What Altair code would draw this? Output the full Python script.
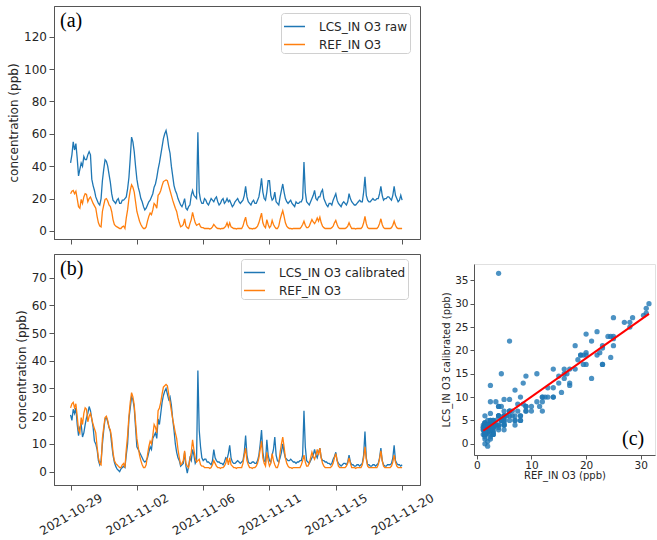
import altair as alt
import pandas as pd

# x axis is a sample index 0..500; stored samples every IDX_STEP index units
IDX_STEP = 2

ref_o3 = [23, 24.5, 25, 23, 24.5, 20, 15, 14, 19.5, 17,
          21, 23, 22.5, 18, 20, 21, 19, 17, 15.5, 14,
          9, 5, 3, 2.5, 12, 16, 19.5, 20, 18.5, 16,
          15, 12, 7, 4, 3, 2.5, 2, 1.5, 1.5, 2.5,
          3, 1.5, 8, 13, 20, 25, 28.5, 27, 24, 18,
          12, 9, 6, 4, 2.5, 1.5, 1.5, 2.5, 6, 9,
          11, 10, 13, 17, 16, 14, 22, 23, 25, 28,
          30.5, 31, 31.5, 31, 28, 25, 22, 19, 16.5, 14,
          12, 8, 5, 2.5, 3, 4, 7.5, 3, 2, 1.5,
          4.5, 7, 11.5, 8, 5, 3.5, 4, 4.5, 2.5, 2,
          2, 1.5, 1.5, 1.5, 1.5, 1.2, 1.5, 2.5, 4, 3,
          2, 1.5, 1.5, 1.2, 1.5, 1.5, 2, 3, 5, 2.5,
          5, 2.5, 2, 1.5, 1.5, 1.2, 1.5, 1.5, 1.5, 1.5,
          3, 6, 8.5, 4, 2.5, 1.5, 1.5, 1.2, 1.5, 1.5,
          2, 3, 5, 8, 11, 5, 3, 2, 7, 4,
          2, 3, 6.5, 4, 2.5, 1.5, 1.5, 3, 7, 10,
          12.5, 9, 5, 3, 2, 1.5, 1.5, 1.2, 1.5, 1.5,
          1.5, 1.5, 1.5, 1.5, 2.5, 4, 6, 3.5, 2, 2,
          3, 5, 7, 5.5, 4.5, 6, 8, 6, 8.5, 5,
          3, 2, 1.5, 1.5, 1.5, 1.5, 1.5, 2, 3, 5,
          6.5, 4, 2, 1.5, 1.5, 1.5, 1.5, 1.5, 2, 3,
          5, 3, 1.5, 1.5, 1.5, 1.2, 1.5, 1.5, 1.5, 1.5,
          2.5, 5, 9, 4.5, 2, 1.5, 1.5, 1.5, 1.5, 1.5,
          1.5, 1.5, 2.5, 4.5, 7.5, 4, 2, 1.5, 1.5, 1.5,
          1.5, 1.5, 2, 3.5, 6, 3.5, 2, 1.5, 1.5, 1.5, 1.5]

lcs_cal = [20.5, 18.5, 22.5, 21, 23, 17, 13, 16, 17, 12.5,
           14, 17, 19.5, 21, 23.5, 22, 19, 16, 11, 10,
           8, 4, 2.5, 4, 10, 15, 19, 19.5, 18, 16,
           14.5, 10, 6, 3.5, 2, 1, 0.5, 0, 1, 1.5,
           2, 1.5, 6, 10, 19, 23, 27, 26, 23, 16,
           9, 8, 7, 6, 5, 4, 3.5, 4, 5, 7,
           9, 8, 12, 13, 14, 12, 19, 17, 21, 25,
           27.5, 29, 30, 28, 26, 27, 24, 19, 15, 10,
           7, 5, 4, 2, 2.5, 3, 7, 2, -0.5, 2,
           5, 4, 8, 6, 3, 4, 36.5, 15, 9, 5,
           4, 4.5, 4.5, 3.5, 3.5, 3, 2.5, 4, 8, 5,
           4, 3.5, 3.5, 3, 3, 2.5, 3.5, 5, 4.5, 6.5,
           9.5, 5, 3.5, 3, 3, 3.5, 4, 3.5, 3, 3.5,
           4, 7, 13, 6, 3.5, 3, 3, 3.5, 3.5, 3,
           3, 4, 6, 10, 15, 7, 4, 3.5, 11.5, 6,
           4, 3.5, 6, 8, 12.5, 6, 4, 3.5, 5, 7,
           10, 7, 5, 4.5, 4, 4, 4.5, 4, 3.5, 3.5,
           3, 3.5, 3.5, 4, 4, 6, 22, 9, 4, 3.5,
           3, 4, 5, 6, 8, 6, 5, 7, 8.5, 5,
           4, 4, 3.5, 3.5, 3, 3, 2.5, 3, 4.5, 5.5,
           7, 4, 3, 2.5, 2, 2.5, 3, 3, 2.5, 3.5,
           6, 3.5, 2.5, 2.5, 2, 2, 2.5, 2.5, 2, 2.5,
           3, 6, 14.5, 5, 2.5, 2.5, 2, 2, 2.5, 2.5,
           2, 2.5, 3, 5, 8.5, 4, 2.5, 2, 2, 2.5,
           2.5, 2.5, 3, 5, 9.5, 4, 3, 2.5, 2.5, 2, 2.5]

lcs_raw = [42, 47, 55, 50, 54, 45, 34, 38, 42, 40,
           46, 44, 44, 47, 49, 47, 32, 28, 25, 21,
           19, 17, 16, 20, 31, 38, 44, 43, 40, 35,
           30, 23, 19, 18, 17, 19, 20, 17, 17, 19,
           19, 20, 21, 26, 33, 45, 58, 55, 49, 40,
           32, 27, 24, 20, 18, 15, 13, 14, 16, 18,
           19, 21, 23, 27, 29, 33, 38, 42, 47, 52,
           57, 60, 62, 58, 52, 48, 40, 34, 28, 25,
           23, 20, 18, 16, 15, 17, 20, 14, 13, 15,
           16, 22, 25, 22, 21, 20, 61, 24, 19, 17,
           17, 20, 19, 17, 16, 18, 20, 19, 18, 20,
           21, 18, 16, 17, 19, 20, 17, 18, 20, 18,
           19, 17, 15, 16, 18, 19, 20, 18, 17, 18,
           19, 22, 27.5, 21, 18, 17, 16, 18, 19, 17,
           17, 19, 21, 26, 32.5, 24, 20, 19, 24, 31,
           31, 22, 19, 20, 24, 18, 17, 16, 21, 25,
           29, 24, 20, 18, 17, 18, 19, 17, 16, 15,
           18, 17, 17, 18, 18, 20, 42.5, 24, 18, 17,
           16, 18, 20, 22, 25, 20, 19, 21, 21, 24,
           25.5, 20, 18, 16, 15, 17, 17, 16, 19, 21,
           23, 19, 17, 16, 15, 17, 18, 17, 16, 18,
           23, 20, 18, 17, 16, 16, 17, 18, 19, 18,
           18, 24, 33.5, 22, 19, 18, 18, 19, 20, 19,
           19, 20, 20, 23, 27.5, 22, 19, 20, 20, 21,
           21, 20, 19, 22, 27.5, 22, 20, 18, 19, 22, 19]

tick_positions = [0, 100, 200, 300, 400, 500]
tick_dates = ["2021-10-29", "2021-11-02", "2021-11-06",
              "2021-11-11", "2021-11-15", "2021-11-20"]

raw_name = "LCS_IN O3 raw"
cal_name = "LCS_IN O3 calibrated"
ref_name = "REF_IN O3"

BLUE = "#1f77b4"
ORANGE = "#ff7f0e"
FRAME = "#555555"
TXT = "#262626"

idx = [i * IDX_STEP for i in range(len(ref_o3))]

label_expr = " : ".join(
    f"datum.value == {p} ? '{d}'" for p, d in zip(tick_positions, tick_dates)
) + " : ''"


def ts_panel(lcs_values, lcs_name, ydomain, yticks, show_dates, tag, height, legend_x, legend_y):
    df_l = pd.DataFrame({"t": idx, "v": lcs_values, "s": lcs_name})
    df_r = pd.DataFrame({"t": idx, "v": ref_o3, "s": ref_name})
    if show_dates:
        xaxis = alt.Axis(values=tick_positions, labelExpr=label_expr, labelAngle=330,
                         labelAlign="center", labelBaseline="middle", labelPadding=24,
                         labelOverlap=False, tickSize=5, labelFontSize=12, title=None, grid=False)
    else:
        xaxis = alt.Axis(values=tick_positions, labels=False, tickSize=5, title=None, grid=False)
    x = alt.X("t:Q", scale=alt.Scale(domain=[-25, 527], nice=False, zero=False), axis=xaxis)
    y = alt.Y("v:Q", scale=alt.Scale(domain=ydomain, nice=False, zero=False),
              axis=alt.Axis(values=yticks, tickSize=5, labelPadding=2.5, labelFontSize=12,
                            title="concentration (ppb)", titleFontSize=12, titlePadding=3,
                            grid=False))
    color = alt.Color("s:N", scale=alt.Scale(domain=[lcs_name, ref_name], range=[BLUE, ORANGE]),
                      legend=alt.Legend(title=None, orient="none", legendX=legend_x, legendY=legend_y,
                                        fillColor="white", strokeColor="#d0d0d0", cornerRadius=3,
                                        padding=2, symbolType="stroke", symbolSize=441,
                                        symbolStrokeWidth=1.5, labelFontSize=12, labelColor=TXT,
                                        labelFont="DejaVu Sans", rowPadding=0, labelOffset=13))
    l1 = alt.Chart(df_l).mark_line(strokeWidth=1.3).encode(x=x, y=y, color=color)
    l2 = alt.Chart(df_r).mark_line(strokeWidth=1.3).encode(x=x, y=y, color=color)
    txt = alt.Chart(pd.DataFrame({"lab": [tag]})).mark_text(
        font="Liberation Serif", fontSize=20, align="left", baseline="alphabetic", color="black"
    ).encode(x=alt.value(6), y=alt.value(21), text="lab:N")
    return alt.layer(l1, l2, txt).properties(width=366, height=height)


panel_a = ts_panel(lcs_raw, raw_name, [-5, 139], [0, 20, 40, 60, 80, 100, 120], False, "(a)", 233, 227, 7)
panel_b = ts_panel(lcs_cal, cal_name, [-4.8, 78.5], [0, 10, 20, 30, 40, 50, 60, 70], True, "(b)", 231, 187, 5)

left = alt.vconcat(panel_a, panel_b, spacing=8).resolve_scale(color="independent")

# scatter (c): the REF / calibrated pairs of panel (b)
df_s = pd.DataFrame({"ref": ref_o3, "cal": lcs_cal})
sx = alt.X("ref:Q", scale=alt.Scale(domain=[-0.5, 32.6], nice=False, zero=False),
           axis=alt.Axis(values=[0, 10, 20, 30], tickSize=4, labelFontSize=10.5, labelPadding=1,
                         title="REF_IN O3 (ppb)", titleFontSize=10, titlePadding=0, grid=False))
sy = alt.Y("cal:Q", scale=alt.Scale(domain=[-2.4, 38.5], nice=False, zero=False),
           axis=alt.Axis(values=[0, 5, 10, 15, 20, 25, 30, 35], tickSize=4, labelFontSize=10.5,
                         labelPadding=2, title="LCS_IN O3 calibrated (ppb)", titleFontSize=10,
                         titlePadding=3, grid=False))
pts = alt.Chart(df_s).mark_circle(size=28, color=BLUE, opacity=0.8).encode(x=sx, y=sy)
reg = alt.Chart(df_s).transform_regression("ref", "cal").mark_line(color="red", strokeWidth=2).encode(
    x=sx, y=sy)
tag_c = alt.Chart(pd.DataFrame({"lab": ["(c)"]})).mark_text(
    font="Liberation Serif", fontSize=20, align="left", baseline="alphabetic", color="black"
).encode(x=alt.value(148), y=alt.value(181), text="lab:N")
panel_c = alt.layer(pts, reg, tag_c).properties(
    width=181, height=191, view=alt.ViewBackground(stroke="#e0e0e0"))

spacer = alt.Chart(pd.DataFrame({"s": [0]})).mark_point(opacity=0).properties(
    width=10, height=256, view=alt.ViewBackground(stroke="transparent"))

right = alt.vconcat(spacer, panel_c, spacing=0)

chart = alt.hconcat(left, right, spacing=5).properties(
    padding={"left": 7, "top": 5, "right": 0, "bottom": 0}
).configure(font="DejaVu Sans").configure_view(
    stroke=FRAME, strokeWidth=1
).configure_axis(
    domainColor=FRAME, tickColor=FRAME, labelColor=TXT, titleColor=TXT,
    labelFont="DejaVu Sans", titleFont="DejaVu Sans", titleFontWeight="normal"
)

chart.save("out.html", embed_options={"renderer": "svg", "actions": False})
